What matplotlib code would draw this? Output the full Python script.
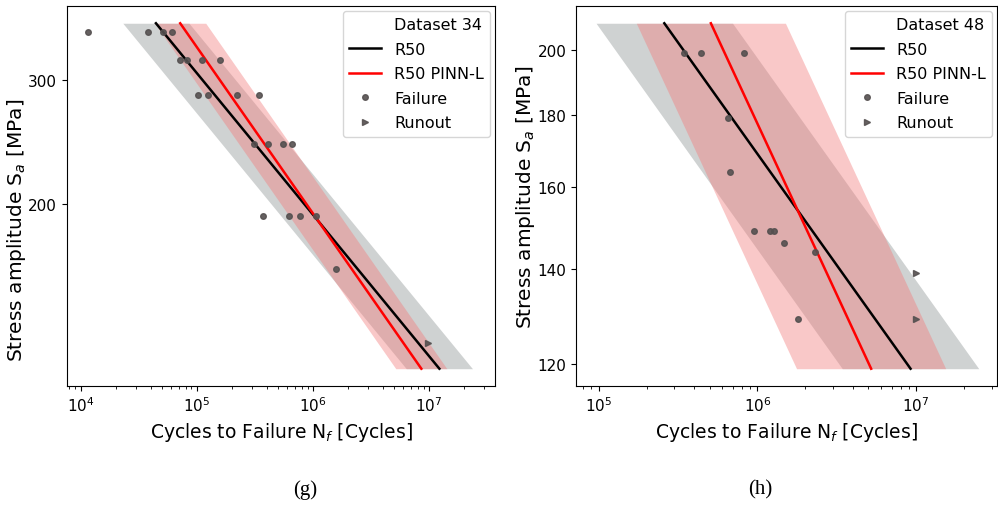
import numpy as np
import matplotlib
matplotlib.use('Agg')
import matplotlib.pyplot as plt
from matplotlib.ticker import FixedLocator, NullLocator, FixedFormatter

# ---- Dataset 34 (panel g) ----
g_fail_n = [1.16e4, 3.83e4, 5.1e4, 6.08e4, 7.2e4, 8.2e4, 1.1e5, 1.59e5,
            1.02e5, 1.24e5, 2.21e5, 3.44e5, 3.14e5, 4.14e5, 5.5e5, 6.6e5,
            3.75e5, 6.28e5, 7.78e5, 1.07e6, 1.58e6]
g_fail_s = [351, 351, 351, 351, 320, 320, 320, 320,
            286, 286, 286, 286, 243, 243, 243, 243,
            192, 192, 192, 192, 161.5]
g_run_n = [9.9e6]
g_run_s = [126.6]
g_line_s = [361.5, 116.5]
g_r50_n = [4.45e4, 1.23e7]
g_pinn_n = [7.2e4, 8.6e6]
g_r50_band = 0.285   # scatter band half width, decades
g_pinn_band = 0.22
g_yticks = [200, 300]

# ---- Dataset 48 (panel h) ----
h_fail_n = [3.46e5, 4.4e5, 8.24e5, 6.55e5, 6.73e5, 9.53e5, 1.2e6, 1.27e6,
            1.47e6, 2.31e6, 1.79e6]
h_fail_s = [199, 199, 199, 179, 164, 149, 149, 149, 146, 144, 129]
h_run_n = [1e7, 1e7]
h_run_s = [139, 129]
h_line_s = [208.9, 119.0]
h_r50_n = [2.59e5, 9.23e6]
h_pinn_n = [5.09e5, 5.21e6]
h_r50_band = 0.43
h_pinn_band = 0.47
h_yticks = [120, 140, 160, 180, 200]


def sn_panel(ax, name, fail_n, fail_s, run_n, run_s, line_s, r50_n, pinn_n,
             r50_w, pinn_w, yticks, xlim, ylab_pos):
    line_s = np.array(line_s)
    r50_n = np.array(r50_n)
    pinn_n = np.array(pinn_n)
    ax.fill_betweenx(line_s, r50_n * 10**-r50_w, r50_n * 10**r50_w,
                     color='#767e7e', alpha=0.35, lw=0)
    ax.fill_betweenx(line_s, pinn_n * 10**-pinn_w, pinn_n * 10**pinn_w,
                     color='#f37c7c', alpha=0.42, lw=0)
    ax.plot([], [], ' ', label=name)
    ax.plot(r50_n, line_s, color='black', lw=1.8, label='R50')
    ax.plot(pinn_n, line_s, color='red', lw=1.8, label='R50 PINN-L')
    ax.plot(fail_n, fail_s, 'o', color='#555050', ms=4, alpha=0.9,
            label='Failure')
    ax.plot(run_n, run_s, '>', color='#555050', ms=4, alpha=0.9,
            label='Runout')
    ax.set_xscale('log')
    ax.set_yscale('log')
    ax.set_xlim(xlim)
    ax.yaxis.set_major_locator(FixedLocator(yticks))
    ax.yaxis.set_major_formatter(FixedFormatter([str(t) for t in yticks]))
    ax.yaxis.set_minor_locator(NullLocator())
    ax.tick_params(labelsize=11)
    ax.set_xlabel('Cycles to Failure N$_f$ [Cycles]', fontsize=13.5)
    ax.set_ylabel('Stress amplitude S$_a$ [MPa]', fontsize=14.5)
    ax.yaxis.set_label_coords(*ylab_pos)
    ax.legend(loc='upper right', fontsize=11.5, borderaxespad=0.3,
              labelspacing=0.6)


fig = plt.figure(figsize=(9.98, 5.06), dpi=100)
ax1 = fig.add_axes([0.0671, 0.2352, 0.4289, 0.751])
ax2 = fig.add_axes([0.5772, 0.2352, 0.4218, 0.751])

sn_panel(ax1, 'Dataset 34', g_fail_n, g_fail_s, g_run_n, g_run_s, g_line_s,
         g_r50_n, g_pinn_n, g_r50_band, g_pinn_band, g_yticks,
         (10**3.882, 10**7.569), (-0.091, 0.413))
sn_panel(ax2, 'Dataset 48', h_fail_n, h_fail_s, h_run_n, h_run_s, h_line_s,
         h_r50_n, h_pinn_n, h_r50_band, h_pinn_band, h_yticks,
         (10**4.857, 10**7.51), (-0.092, 0.5))

fig.text(305 / 998, 1 - 490 / 506, '(g)', ha='center', va='center',
         fontsize=15, family='Liberation Serif')
fig.text(760 / 998, 1 - 490 / 506, '(h)', ha='center', va='center',
         fontsize=15, family='Liberation Serif')

fig.savefig('out.png', dpi=100)
